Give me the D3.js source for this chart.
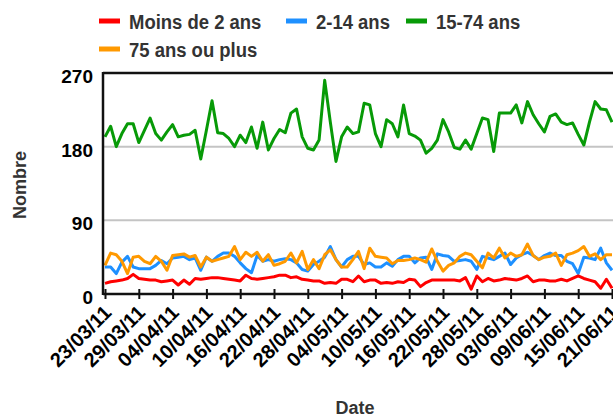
<!DOCTYPE html>
<html><head><meta charset="utf-8">
<script src="https://cdn.jsdelivr.net/npm/d3@7"></script>
<style>body{margin:0;background:#fff}svg{display:block}text{font-family:"Liberation Sans",Arial,sans-serif;font-weight:bold}</style>
</head><body><svg id="c" width="613" height="417"></svg>
<script>
const startDate = "2011-03-23";
const seriesNames = ["Moins de 2 ans","2-14 ans","15-74 ans","75 ans ou plus"];
const seriesColors = ["#ff0000","#1e90ff","#079a07","#ff9900"];
const moins2 = [13,15,16,17,19,24,19,18,17,17,15,16,17,11,17,12,19,18,19,20,20,19,18,17,16,23,19,18,19,20,
  21,23,23,20,21,18,17,16,16,13,14,13,18,18,15,22,15,17,17,13,14,13,15,14,18,17,9,14,17,17,
  17,17,17,16,20,6,22,15,19,16,17,19,18,17,19,22,15,17,17,16,16,18,16,19,22,19,17,15,7,18,7];
const a2_14 = [33,33,25,39,46,33,31,31,31,35,41,37,44,45,46,42,44,29,45,40,46,50,50,46,38,31,26,47,40,42,
  40,42,43,42,38,30,28,36,40,45,58,42,33,42,46,46,36,38,33,33,38,34,42,46,46,38,44,45,30,49,
  47,46,40,41,42,40,30,46,44,42,46,50,36,44,48,51,47,42,47,50,47,47,40,37,25,45,44,42,56,38,29];
const a15_74 = [192,205,180,196,208,208,185,200,215,196,188,198,207,192,194,195,200,165,200,236,197,196,190,180,194,185,204,178,210,176,
  190,201,197,221,226,192,178,176,188,261,210,162,192,204,196,198,233,231,196,180,213,208,192,231,196,193,188,172,178,188,
  213,198,179,177,188,177,196,215,213,174,221,221,221,231,209,235,219,208,198,217,220,210,207,209,195,182,210,235,226,225,210];
const a75plus = [35,50,48,40,25,45,46,40,37,46,40,29,47,48,49,45,47,33,45,40,42,44,46,58,42,51,46,51,40,48,
  35,37,40,50,38,52,30,42,31,48,54,42,33,33,42,52,31,56,46,45,44,37,41,41,42,44,42,39,55,40,
  28,35,38,46,50,48,40,32,50,44,56,44,50,46,48,61,47,42,45,46,50,35,48,50,53,58,46,49,42,48,48];
const yTicks = [0,90,180,270];
const xTickLabels = ["23/03/11","29/03/11","04/04/11","10/04/11","16/04/11","22/04/11","28/04/11","04/05/11","10/05/11","16/05/11","22/05/11","28/05/11","03/06/11","09/06/11","15/06/11","21/06/11"];
const yTitle = "Nombre", xTitle = "Date";

const parse = d3.timeParse("%Y-%m-%d");
const t0 = parse(startDate);
const dates = moins2.map((_, i) => d3.timeDay.offset(t0, i));
const tickDates = xTickLabels.map(s => d3.timeParse("%d/%m/%y")(s));
const series = [moins2, a2_14, a15_74, a75plus];

const svg = d3.select("#c");
const L = 103, T = 73, B = 294, R = 640;
const x = d3.scaleTime().domain([t0, d3.timeDay.offset(t0, 90)]).range([105, 612]);
const y = d3.scaleLinear().domain([0, 270]).range([B, T]);

// gridlines
svg.append("g").selectAll("line").data([90,180]).join("line")
  .attr("x1", L).attr("x2", R).attr("y1", d => y(d)).attr("y2", d => y(d))
  .attr("stroke", "#c4c4c4").attr("stroke-width", 2);
// top border
svg.append("line").attr("x1", L).attr("x2", R).attr("y1", T).attr("y2", T).attr("stroke", "#111").attr("stroke-width", 2.5);

// lines
const line = d3.line().x((d, i) => x(dates[i])).y(d => y(d));
const order = [2, 1, 3, 0];
order.forEach(k => {
  svg.append("path").datum(series[k]).attr("d", line).attr("fill", "none")
    .attr("stroke", seriesColors[k]).attr("stroke-width", 3).attr("stroke-linejoin", "round");
});

// axes
const xAxis = d3.axisBottom(x).tickValues(tickDates).tickFormat((d, i) => xTickLabels[i]).tickSize(0);
const gx = svg.append("g").attr("transform", `translate(0,${B})`).call(xAxis);
gx.select(".domain").remove();
svg.append("line").attr("x1", L).attr("x2", R).attr("y1", B).attr("y2", B).attr("stroke", "#111").attr("stroke-width", 2.5);
gx.selectAll(".tick").append("line").attr("y1", -5).attr("y2", 5).attr("stroke", "#111").attr("stroke-width", 2);
gx.selectAll(".tick text").attr("fill", "#000").attr("font-size", 20)
  .attr("text-anchor", "end").attr("dy", 0).attr("y", 0)
  .attr("transform", "translate(7,20) rotate(-45)");

const yAxis = d3.axisLeft(y).tickValues(yTicks).tickSize(0).tickPadding(10);
const gy = svg.append("g").attr("transform", `translate(${L},0)`).call(yAxis);
gy.select(".domain").remove();
gy.selectAll(".tick text").attr("fill", "#000").attr("font-size", 19).attr("dy", "0.5em");
svg.append("line").attr("x1", L).attr("x2", L).attr("y1", T - 1).attr("y2", B + 1).attr("stroke", "#111").attr("stroke-width", 2.5);

// titles
svg.append("text").attr("transform", "translate(26,185) rotate(-90)").attr("text-anchor", "middle")
  .attr("font-size", 18).attr("fill", "#333").text(yTitle);
svg.append("text").attr("x", 355).attr("y", 414).attr("text-anchor", "middle")
  .attr("font-size", 18).attr("fill", "#333").text(xTitle);

// legend
const legPos = [[99, 21], [286, 21], [406, 21], [99, 49]];
legPos.forEach((p, k) => {
  const g = svg.append("g").attr("transform", `translate(${p[0]},${p[1]})`);
  g.append("line").attr("x1", 0).attr("x2", 21).attr("stroke", seriesColors[k]).attr("stroke-width", 5);
  g.append("text").attr("transform", "translate(30,0) scale(0.88,1)").attr("dy", "0.36em")
    .attr("font-size", 21).attr("fill", "#333").text(seriesNames[k]);
});
</script></body></html>
